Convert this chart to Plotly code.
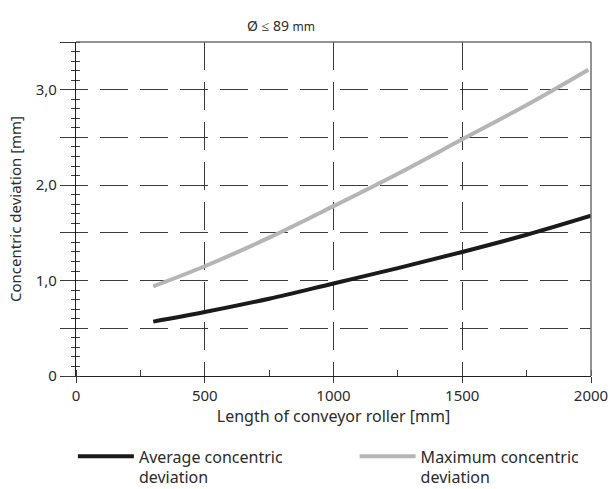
import plotly.graph_objects as go

# ---- data ----
length_mm = [300, 500, 750, 1000, 1250, 1500, 1750, 2000]
avg_dev = [0.57, 0.67, 0.81, 0.97, 1.13, 1.30, 1.48, 1.68]
max_len_mm = [300, 500, 750, 1000, 1250, 1500, 1750, 1990]
max_dev = [0.94, 1.15, 1.45, 1.78, 2.12, 2.48, 2.84, 3.21]

y_tickvals = [0, 0.5, 1.0, 1.5, 2.0, 2.5, 3.0, 3.5]
y_ticktext = ["0", "", "1,0", "", "2,0", "", "3,0", ""]
x_tickvals = [0, 500, 1000, 1500, 2000]
x_ticktext = ["0", "500", "1000", "1500", "2000"]

series_names = ["Average concentric<br>deviation", "Maximum concentric<br>deviation"]

FONT = "Noto Sans"
TXT = "#2b2b2b"
GRID = "#3a3a3a"

h_dash = "12px,12px" + ",28px,12px" * 14

fig = go.Figure()
fig.add_trace(go.Scatter(x=length_mm, y=avg_dev, mode="lines", name=series_names[0],
                         line=dict(color="#1a1a1a", width=4), line_shape="spline",
                         legend="legend"))
fig.add_trace(go.Scatter(x=max_len_mm, y=max_dev, mode="lines", name=series_names[1],
                         line=dict(color="#b5b5b5", width=4), line_shape="spline",
                         legend="legend2"))

leg_common = dict(orientation="h", xanchor="left", y=-0.19, yanchor="top",
                  itemwidth=56, valign="top", font=dict(size=16, color=TXT),
                  bgcolor="rgba(0,0,0,0)")

fig.update_layout(
    width=614, height=489,
    margin=dict(l=76, r=23, t=42, b=113, autoexpand=False),
    paper_bgcolor="white", plot_bgcolor="white",
    font=dict(family=FONT, size=14, color=TXT),
    showlegend=True,
    legend=dict(x=-0.006, **leg_common),
    legend2=dict(x=0.541, **leg_common),
    xaxis=dict(range=[0, 2000], tickvals=x_tickvals, ticktext=x_ticktext,
               ticks="outside", ticklen=6, tickcolor=GRID, tickwidth=1,
               showline=True, linecolor="#222", linewidth=1.2,
               showgrid=True, gridcolor=GRID, gridwidth=1, griddash="28px,12px",
               zeroline=False, tickfont=dict(size=15, color=TXT),
               title=dict(text="Length of conveyor roller [mm]", font=dict(size=16, color=TXT), standoff=5),
               minor=dict(dtick=250, tick0=0, ticks="inside", ticklen=6, tickcolor=GRID, showgrid=False)),
    yaxis=dict(range=[0, 3.5], tickvals=y_tickvals, ticktext=y_ticktext,
               ticks="outside", ticklen=15, tickcolor=GRID, tickwidth=1,
               showline=True, linecolor="#222", linewidth=1.2,
               showgrid=True, gridcolor=GRID, gridwidth=1, griddash=h_dash,
               zeroline=False, tickfont=dict(size=15, color=TXT),
               title=dict(text="Concentric deviation [mm]", font=dict(size=15, color=TXT), standoff=10),
               minor=dict(dtick=0.1, tick0=0, ticks="outside", ticklen=4, tickcolor=GRID, showgrid=False)),
    yaxis2=dict(range=[0, 3.5], overlaying="y", side="left", anchor="x",
                showgrid=False, showticklabels=False, showline=False, zeroline=False,
                tickvals=y_tickvals, ticks="",
                minor=dict(dtick=0.1, tick0=0, ticks="inside", ticklen=4, tickcolor=GRID, showgrid=False)),
)

# frame: top and right borders
fig.add_shape(type="line", xref="paper", yref="paper", x0=0, x1=1, y0=1, y1=1,
              line=dict(color="#6e6e6e", width=1.5))
fig.add_shape(type="line", xref="paper", yref="paper", x0=1, x1=1, y0=0, y1=1,
              line=dict(color="#6e6e6e", width=1.5))

# dummy trace to activate yaxis2
fig.add_trace(go.Scatter(x=[None], y=[None], yaxis="y2", showlegend=False, hoverinfo="skip"))

fig.add_annotation(text="Ø ≤ 89 <span style='font-size:12px'>mm</span>",
                   xref="paper", yref="paper", x=0.398, y=1, yshift=28,
                   showarrow=False, font=dict(size=14, color=TXT))

fig.write_html("out.html", config={"displayModeBar": False},
               post_script="document.body.style.margin='0';")
